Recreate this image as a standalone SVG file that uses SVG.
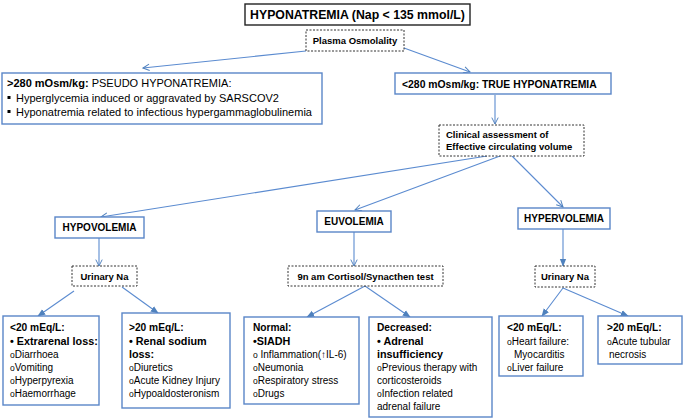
<svg xmlns="http://www.w3.org/2000/svg" width="684" height="419" viewBox="0 0 684 419">
<defs>
<marker id="open" viewBox="0 0 10 10" refX="9" refY="5" markerWidth="8" markerHeight="8" orient="auto" markerUnits="userSpaceOnUse">
<path d="M1,1 L9,5 L1,9" fill="none" stroke="#4f81bd" stroke-width="1.2"/>
</marker>
<marker id="fill" viewBox="0 0 10 10" refX="9" refY="5" markerWidth="8" markerHeight="8" orient="auto" markerUnits="userSpaceOnUse">
<path d="M0,1 L10,5 L0,9 Z" fill="#4f81bd"/>
</marker>
<style>
text{font-family:"Liberation Sans",Arial,"DejaVu Sans",sans-serif;fill:#000}
.b{font-weight:bold}
.blue{fill:#fff;stroke:#5a86c8;stroke-width:1.4}
.dash{fill:#fff;stroke:#333;stroke-width:1;stroke-dasharray:2 1.5}
.lab{font-size:9.5px;font-weight:bold;text-anchor:middle}
.cat{font-size:10px;font-weight:bold;text-anchor:middle}
.t{font-size:10px}
.h{font-size:10.2px;font-weight:bold}
.hb{font-size:10.8px;font-weight:bold}
.o{font-size:8.5px}
.ao{fill:none;stroke:#5b8bd0;stroke-width:1.1;marker-end:url(#open)}
.af{fill:none;stroke:#5b8bd0;stroke-width:1.1;marker-end:url(#fill)}
</style>
</defs>
<rect width="684" height="419" fill="#fff"/>

<g id="connectors">
<line class="ao" x1="306" y1="51" x2="143" y2="68"/>
<line class="ao" x1="404" y1="48" x2="470" y2="72"/>
<line class="ao" x1="495" y1="95" x2="495" y2="124"/>
<line class="ao" x1="487" y1="156" x2="101" y2="217"/>
<line class="ao" x1="500" y1="156" x2="355" y2="210"/>
<line class="ao" x1="512" y1="156" x2="563" y2="207"/>
<line class="ao" x1="99" y1="238" x2="99" y2="266"/>
<line class="ao" x1="354" y1="232" x2="354" y2="266"/>
<line class="af" x1="563" y1="229" x2="563" y2="266"/>
<line class="af" x1="74" y1="291" x2="38" y2="316"/>
<line class="af" x1="122" y1="287" x2="158" y2="313"/>
<line class="af" x1="365" y1="286" x2="307" y2="317"/>
<line class="af" x1="365" y1="286" x2="410" y2="317"/>
<line class="af" x1="563" y1="288" x2="542" y2="316"/>
<line class="af" x1="563" y1="288" x2="628" y2="316"/>
</g>

<g id="title">
<rect x="245" y="4" width="225" height="21" fill="#fff" stroke="#222" stroke-width="1.4"/>
<text x="357.5" y="19" class="b" font-size="12.3" text-anchor="middle">HYPONATREMIA (Nap &lt; 135 mmol/L)</text>
</g>

<g id="plasma">
<rect class="dash" x="306" y="30" width="98" height="21"/>
<text x="355" y="44" class="lab">Plasma Osmolality</text>
</g>

<g id="pseudo">
<rect class="blue" x="2" y="73" width="320" height="51"/>
<text x="7" y="87" font-size="11"><tspan class="b">&gt;280 mOsm/kg:</tspan> PSEUDO HYPONATREMIA:</text>
<rect x="7.5" y="96" width="3" height="3" fill="#000"/>
<text x="16" y="101.5" font-size="11">Hyperglycemia induced or aggravated by SARSCOV2</text>
<rect x="7.5" y="110" width="3" height="3" fill="#000"/>
<text x="16" y="115.5" font-size="11">Hyponatremia related to infectious hypergammaglobulinemia</text>
</g>

<g id="true">
<rect class="blue" x="395" y="73" width="216" height="21"/>
<text x="402" y="87.5" class="b" font-size="10.4">&lt;280 mOsm/kg: TRUE HYPONATREMIA</text>
</g>

<g id="clinical">
<rect class="dash" x="439" y="125" width="145" height="31"/>
<text x="446" y="137.5" class="b" font-size="9.5">Clinical assessment of</text>
<text x="446" y="150" class="b" font-size="9.5">Effective circulating volume</text>
</g>

<g id="hypovolemia">
<rect class="blue" x="55" y="217" width="89" height="21"/>
<text x="99.5" y="231" class="cat">HYPOVOLEMIA</text>
</g>

<g id="euvolemia">
<rect class="blue" x="317" y="211" width="74" height="21"/>
<text x="354" y="225" class="cat">EUVOLEMIA</text>
</g>

<g id="hypervolemia">
<rect class="blue" x="518" y="208" width="92" height="21"/>
<text x="564" y="222" class="cat">HYPERVOLEMIA</text>
</g>

<g id="urinary-na-1">
<rect class="dash" x="72" y="266" width="65" height="20"/>
<text x="104.5" y="279.5" class="lab">Urinary Na</text>
</g>

<g id="cortisol">
<rect class="dash" x="288" y="266" width="155" height="20"/>
<text x="365.5" y="279.5" class="lab">9n am Cortisol/Synacthen test</text>
</g>

<g id="urinary-na-2">
<rect class="dash" x="535" y="266" width="60" height="21"/>
<text x="565" y="280" class="lab">Urinary Na</text>
</g>

<g id="hypo-low">
<rect class="blue" x="3" y="316" width="96" height="89"/>
<text x="10" y="331" class="h">&lt;20 mEq/L:</text>
<text x="10" y="345" class="hb">• Extrarenal loss:</text>
<text x="10" y="358" class="t"><tspan class="o">o</tspan>Diarrhoea</text>
<text x="10" y="371" class="t"><tspan class="o">o</tspan>Vomiting</text>
<text x="10" y="384" class="t"><tspan class="o">o</tspan>Hyperpyrexia</text>
<text x="10" y="397" class="t"><tspan class="o">o</tspan>Haemorrhage</text>
</g>

<g id="hypo-high">
<rect class="blue" x="122" y="313" width="108" height="95"/>
<text x="129" y="331" class="h">&gt;20 mEq/L:</text>
<text x="129" y="345" class="hb">• Renal sodium</text>
<text x="129" y="358" class="hb">loss:</text>
<text x="129" y="371" class="t"><tspan class="o">o</tspan>Diuretics</text>
<text x="129" y="384" class="t"><tspan class="o">o</tspan>Acute Kidney Injury</text>
<text x="129" y="397" class="t"><tspan class="o">o</tspan>Hypoaldosteronism</text>
</g>

<g id="normal">
<rect class="blue" x="244" y="317" width="115" height="87"/>
<text x="253" y="331" class="h">Normal:</text>
<text x="253" y="345" class="hb">•SIADH</text>
<text x="253" y="358" class="t"><tspan class="o">o</tspan> Inflammation(↑IL-6)</text>
<text x="253" y="371" class="t"><tspan class="o">o</tspan>Neumonia</text>
<text x="253" y="384" class="t"><tspan class="o">o</tspan>Respiratory stress</text>
<text x="253" y="397" class="t"><tspan class="o">o</tspan>Drugs</text>
</g>

<g id="decreased">
<rect class="blue" x="369" y="317" width="123" height="100"/>
<text x="377" y="331" class="h">Decreased:</text>
<text x="377" y="345" class="hb">• Adrenal</text>
<text x="377" y="358" class="hb">insufficiency</text>
<text x="377" y="371" class="t"><tspan class="o">o</tspan>Previous therapy with</text>
<text x="377" y="384" class="t">corticosteroids</text>
<text x="377" y="397" class="t"><tspan class="o">o</tspan>Infection related</text>
<text x="377" y="410" class="t">adrenal failure</text>
</g>

<g id="hyper-low">
<rect class="blue" x="499" y="316" width="84" height="60"/>
<text x="507" y="331" class="h">&lt;20 mEq/L:</text>
<text x="507" y="345" class="t"><tspan class="o">o</tspan>Heart failure:</text>
<text x="514" y="358" class="t">Myocarditis</text>
<text x="507" y="371" class="t"><tspan class="o">o</tspan>Liver failure</text>
</g>

<g id="hyper-high">
<rect class="blue" x="598" y="316" width="84" height="48"/>
<text x="607" y="331" class="h">&gt;20 mEq/L:</text>
<text x="607" y="345" class="t"><tspan class="o">o</tspan>Acute tubular</text>
<text x="609" y="358" class="t">necrosis</text>
</g>
</svg>
